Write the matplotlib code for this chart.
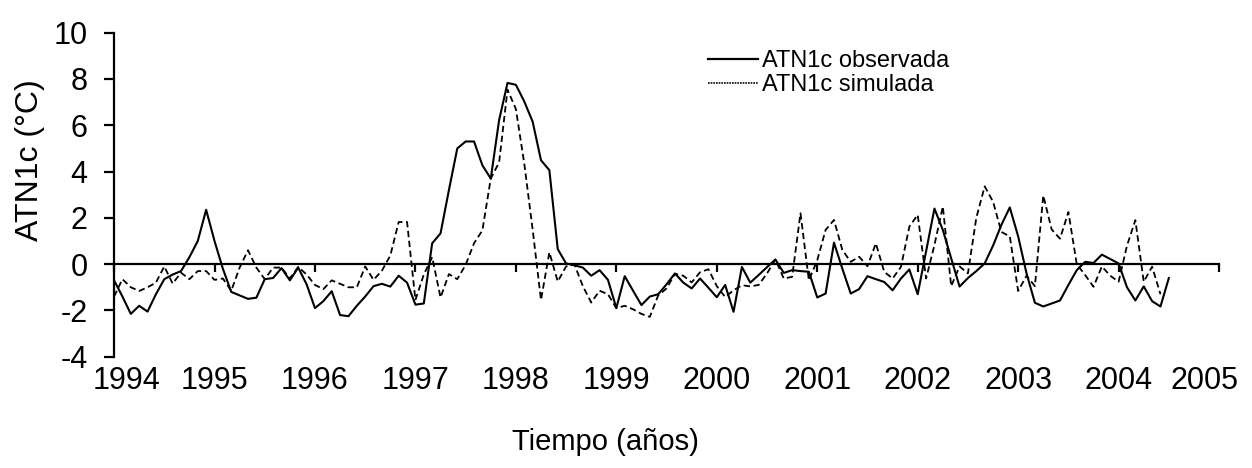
#!/usr/bin/env python3
"""
ATN1c observada vs simulada, serie mensual 1994-2004
"""

import numpy as np
import matplotlib.pyplot as plt
from matplotlib.lines import Line2D

plt.rcParams['font.family'] = ['Liberation Sans', 'DejaVu Sans']
plt.rcParams['axes.unicode_minus'] = False

# valores mensuales desde enero de 1994
obs = [
    -0.7, -1.4, -2.15, -1.8, -2.05, -1.3, -0.65, -0.45, -0.3, 0.3,
    1.0, 2.35, 1.0, -0.2, -1.2, -1.35, -1.5, -1.45, -0.65, -0.6,
    -0.17, -0.7, -0.15, -0.87, -1.9, -1.6, -1.17, -2.2, -2.25, -1.8,
    -1.4, -0.95, -0.85, -0.97, -0.5, -0.8, -1.75, -1.7, 0.9, 1.33,
    3.2, 5.0, 5.3, 5.3, 4.27, 3.7, 6.23, 7.83, 7.75, 7.03,
    6.16, 4.49, 4.06, 0.65, 0.03, -0.05, -0.15, -0.5, -0.26, -0.68,
    -1.9, -0.52, -1.15, -1.77, -1.4, -1.3, -0.87, -0.4, -0.8, -1.05,
    -0.62, -1.02, -1.43, -0.9, -2.06, -0.12, -0.8, -0.47, -0.13, 0.2,
    -0.38, -0.26, -0.3, -0.33, -1.44, -1.27, 0.93, -0.2, -1.27, -1.08,
    -0.52, -0.65, -0.77, -1.13, -0.62, -0.23, -1.3, 0.55, 2.4, 1.48,
    0.25, -0.97, -0.6, -0.3, 0.03, 0.8, 1.7, 2.45, 1.2, -0.4,
    -1.67, -1.83, -1.7, -1.57, -0.9, -0.26, 0.1, 0.05, 0.41, 0.22,
    0.03, -1.0, -1.57, -0.96, -1.6, -1.83, -0.6,
]

sim = [
    -1.4, -0.65, -1.0, -1.16, -1.0, -0.8, -0.1, -0.84, -0.37, -0.65,
    -0.3, -0.3, -0.68, -0.62, -1.15, -0.15, 0.6, -0.15, -0.65, -0.15,
    -0.15, -0.62, -0.12, -0.45, -0.9, -1.08, -0.7, -0.85, -1.0, -1.0,
    -0.1, -0.68, -0.28, 0.37, 1.82, 1.82, -1.55, -0.45, 0.3, -1.44,
    -0.43, -0.65, -0.03, 0.9, 1.46, 3.7, 4.4, 7.54, 6.7, 4.35,
    1.5, -1.55, 0.51, -0.75, -0.1, -0.02, -0.95, -1.66, -1.15, -1.3,
    -1.9, -1.8, -1.95, -2.15, -2.28, -1.35, -1.05, -0.42, -0.5, -0.79,
    -0.35, -0.22, -0.95, -1.42, -1.13, -0.91, -0.96, -0.9, -0.4, 0.2,
    -0.62, -0.55, 2.2, -0.7, 0.17, 1.48, 1.91, 0.61, 0.1, 0.32,
    -0.09, 0.9, -0.33, -0.62, -0.12, 1.62, 2.13, -0.62, 0.83, 2.49,
    -0.95, -0.1, -0.4, 2.0, 3.36, 2.7, 1.39, 1.2, -1.16, -0.5,
    -0.95, 2.97, 1.5, 1.1, 2.25, 0.0, -0.47, -0.98, -0.1, -0.5,
    -0.76, 0.8, 1.9, -0.76, -0.11, -1.3,
]

years = list(range(1994, 2006))
yticks = [-4, -2, 0, 2, 4, 6, 8, 10]

t_obs = 1994 + np.arange(len(obs)) / 12.0
t_sim = 1994 + np.arange(len(sim)) / 12.0

fig = plt.figure(figsize=(12.52, 4.68), dpi=100)
ax = fig.add_axes([0.0911, 0.2378, 0.8826, 0.6923])

ax.plot(t_obs, obs, color='black', lw=1.5)
ax.plot(t_sim, sim, color='black', lw=1.3, linestyle=(0, (3.5, 2)))

ax.set_xlim(1994, 2005)
ax.set_ylim(-4, 10)

# eje x sobre la linea del cero
for s in ['top', 'right']:
    ax.spines[s].set_visible(False)
ax.spines['bottom'].set_position(('data', 0))
ax.spines['bottom'].set_linewidth(1.6)
ax.spines['left'].set_linewidth(1.6)
ax.set_xticks(years)
ax.tick_params(axis='x', direction='out', length=6, width=1.6, labelbottom=False)
ax.set_yticks(yticks)
ax.tick_params(axis='y', direction='out', length=7, width=1.6, pad=12, labelsize=22)

# etiquetas de años abajo del area del grafico (como en Excel, la primera
# y la ultima se corren un poco hacia adentro)
label_pos = [float(y) for y in years]
label_pos[0] += 0.12
label_pos[-1] -= 0.15
sec = ax.secondary_xaxis(0.0)
sec.set_xticks(label_pos, labels=[str(y) for y in years])
sec.spines['bottom'].set_visible(False)
sec.tick_params(length=0, pad=7, labelsize=22)

fig.text(30 / 1252, 1 - 160 / 468, 'ATN1c (°C)', rotation=90,
         ha='center', va='center', fontsize=23)
fig.text(605 / 1252, 1 - 442 / 468, 'Tiempo (años)',
         ha='center', va='center', fontsize=21)

handles = [Line2D([], [], color='black', lw=1.6),
           Line2D([], [], color='black', lw=1.2, linestyle=(0, (1, 0.6)))]
ax.legend(handles, ['ATN1c observada', 'ATN1c simulada'],
          loc='upper left', bbox_to_anchor=(708 / 1252, 1 - 50 / 468),
          bbox_transform=fig.transFigure, frameon=False, fontsize=17,
          handlelength=2.1, handletextpad=0.2, labelspacing=0.1,
          borderpad=0, borderaxespad=0)

plt.savefig('out.png', dpi=100)
plt.close()
